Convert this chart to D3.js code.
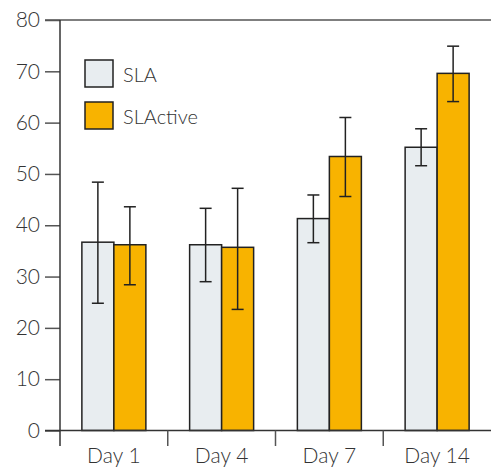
<!DOCTYPE html>
<html><head><meta charset="utf-8">
<script src="https://cdn.jsdelivr.net/npm/d3@7"></script>
<style>body{margin:0;background:#fff}svg{display:block}text{font-family:"Lato","DejaVu Sans",sans-serif;font-weight:300;fill:#333}</style>
</head><body><div id="chart"></div>
<script>
const categories = ["Day 1","Day 4","Day 7","Day 14"];
const seriesNames = ["SLA","SLActive"];
const slaValues = [36.7, 36.2, 41.3, 55.2];
const slaErrLow = [24.8, 29.0, 36.6, 51.6];
const slaErrHigh = [48.4, 43.3, 45.9, 58.8];
const slactiveValues = [36.2, 35.7, 53.4, 69.6];
const slactiveErrLow = [28.4, 23.6, 45.6, 64.1];
const slactiveErrHigh = [43.6, 47.2, 61.0, 74.9];
const yTicks = [0,10,20,30,40,50,60,70,80];
const colors = ["#e8edf0", "#f8b300"];

const W = 491, H = 471;
const svg = d3.select("#chart").append("svg").attr("width", W).attr("height", H);
const x0 = d3.scaleBand().domain(categories).range([60, 491]).paddingInner(0).paddingOuter(0);
const y = d3.scaleLinear().domain([0, 80]).range([430.5, 20]);
const barW = 32;

const series = [
  {name: seriesNames[0], vals: slaValues, lo: slaErrLow, hi: slaErrHigh},
  {name: seriesNames[1], vals: slactiveValues, lo: slactiveErrLow, hi: slactiveErrHigh}
];

// top line
svg.append("line").attr("x1", 45).attr("x2", 491).attr("y1", y(80)).attr("y2", y(80))
  .attr("stroke", "#555").attr("stroke-width", 1.5);

// y axis
const yAxis = d3.axisLeft(y).tickValues(yTicks).tickSize(15).tickPadding(5);
const gy = svg.append("g").attr("transform", "translate(60,0)").call(yAxis);
gy.select(".domain").remove();
gy.selectAll(".tick line").attr("stroke", "#555").attr("stroke-width", 1.5);
gy.selectAll(".tick text").style("font-size", "21px").attr("fill", "#333");
svg.append("line").attr("x1", 60).attr("x2", 60).attr("y1", y(80)).attr("y2", 446)
  .attr("stroke", "#333").attr("stroke-width", 1.5);

// bars
series.forEach((s, si) => {
  const g = svg.append("g");
  g.selectAll("rect").data(categories).join("rect")
    .attr("x", (c) => x0(c) + x0.bandwidth()/2 - barW + si*barW)
    .attr("y", (c, i) => y(s.vals[i]))
    .attr("width", barW)
    .attr("height", (c, i) => y(0) - y(s.vals[i]))
    .attr("fill", colors[si]).attr("stroke", "#222").attr("stroke-width", 1.5);
});

// error bars
series.forEach((s, si) => {
  const g = svg.append("g").attr("stroke", "#222").attr("stroke-width", 1.5);
  categories.forEach((c, i) => {
    const cx = x0(c) + x0.bandwidth()/2 - barW/2 + si*barW;
    g.append("line").attr("x1", cx).attr("x2", cx).attr("y1", y(s.hi[i])).attr("y2", y(s.lo[i]));
    g.append("line").attr("x1", cx-6).attr("x2", cx+6).attr("y1", y(s.hi[i])).attr("y2", y(s.hi[i]));
    g.append("line").attr("x1", cx-6).attr("x2", cx+6).attr("y1", y(s.lo[i])).attr("y2", y(s.lo[i]));
  });
});

// x axis
svg.append("line").attr("x1", 45).attr("x2", 491).attr("y1", y(0)).attr("y2", y(0))
  .attr("stroke", "#333").attr("stroke-width", 1.5);
const sepTicks = categories.slice(1).map(c => x0(c));
svg.selectAll(".sep").data(sepTicks).join("line").attr("class","sep")
  .attr("x1", d => d).attr("x2", d => d).attr("y1", y(0)).attr("y2", 446)
  .attr("stroke", "#555").attr("stroke-width", 1.5);
svg.selectAll(".xl").data(categories).join("text").attr("class","xl")
  .attr("x", c => x0(c) + x0.bandwidth()/2).attr("y", 463)
  .attr("text-anchor", "middle").style("font-size", "21px").text(c => c);

// legend
const leg = svg.append("g");
seriesNames.forEach((n, i) => {
  leg.append("rect").attr("x", 85).attr("y", 60 + i*42).attr("width", 28).attr("height", 27)
    .attr("fill", colors[i]).attr("stroke", "#222").attr("stroke-width", 1.5);
  leg.append("text").attr("x", 123).attr("y", 82 + i*42).style("font-size", "20px").text(n);
});
</script></body></html>
